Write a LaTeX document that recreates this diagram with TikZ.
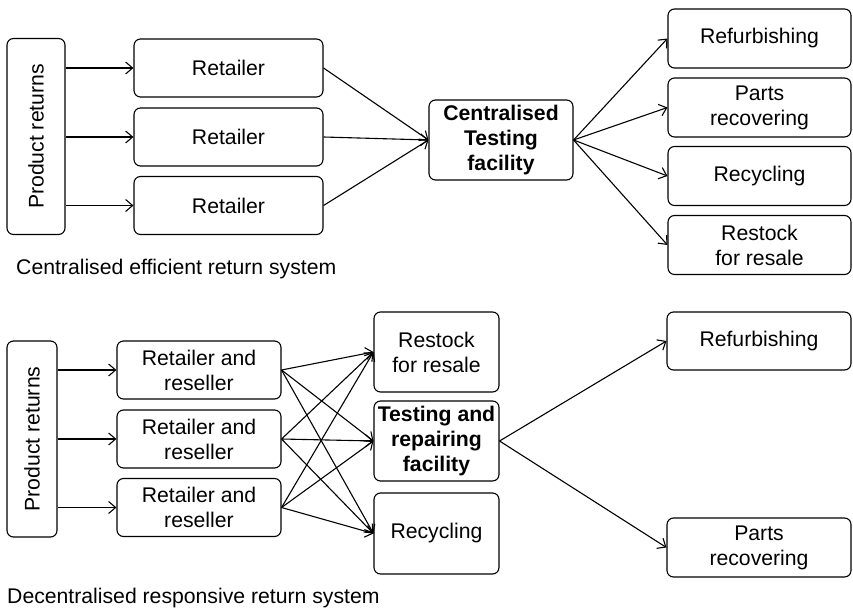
\documentclass[tikz,border=0pt]{standalone}
\usepackage{fontspec}
\setmainfont{Liberation Sans}
\usetikzlibrary{arrows.meta}

\begin{document}
\begin{tikzpicture}[
  x=1pt, y=1pt,
  box/.style={draw, rounded corners=6.5pt, line width=1.1pt, inner sep=0pt,
              font=\fontsize{21.2}{25}\selectfont, align=center},
  srcbox/.style={box, rotate=90, minimum width=196pt},
  hubbox/.style={box, font=\fontsize{21.2}{25}\selectfont\bfseries},
  caption/.style={anchor=west, inner sep=0pt, font=\fontsize{21.2}{25}\selectfont},
  arr/.style={-{Straight Barb[length=7pt, width=12pt, line width=1.1pt]}, line width=1.1pt}
]
  \useasboundingbox (0,0) rectangle (853,-609);

  % centralised system
  \node[srcbox, minimum height=58pt] (src)  at (36,-136.5) {Product returns};
  \node[box, minimum width=189pt, minimum height=58pt] (ret1) at (228.5,-68)  {Retailer};
  \node[box, minimum width=189pt, minimum height=58pt] (ret2) at (228.5,-137) {Retailer};
  \node[box, minimum width=189pt, minimum height=58pt] (ret3) at (228.5,-205.5) {Retailer};
  \node[hubbox, minimum width=144pt, minimum height=80pt] (ctf) at (501,-140) {Centralised\\Testing\\facility};
  \node[box, minimum width=183pt, minimum height=59pt] (refa) at (759.5,-38.5)  {Refurbishing};
  \node[box, minimum width=183pt, minimum height=59pt] (para) at (759.5,-107.5) {Parts\\recovering};
  \node[box, minimum width=183pt, minimum height=59pt] (reca) at (759.5,-176)   {Recycling};
  \node[box, minimum width=183pt, minimum height=59pt] (rsta) at (759.5,-245)   {Restock\\for resale};
  \node[caption] (capa) at (16,-269) {Centralised efficient return system};

  \draw[arr] (src.south |- ret1) -- (ret1.west);
  \draw[arr] (src.south |- ret2) -- (ret2.west);
  \draw[arr] (src.south |- ret3) -- (ret3.west);
  \draw[arr] (ret1.east) -- (ctf.west);
  \draw[arr] (ret2.east) -- (ctf.west);
  \draw[arr] (ret3.east) -- (ctf.west);
  \draw[arr] (ctf.east) -- (refa.west);
  \draw[arr] (ctf.east) -- (para.west);
  \draw[arr] (ctf.east) -- (reca.west);
  \draw[arr] (ctf.east) -- (rsta.west);

  % decentralised system
  \node[srcbox, minimum height=50pt] (srcb) at (32,-439) {Product returns};
  \node[box, minimum width=164pt, minimum height=58pt] (rr1) at (199,-370)   {Retailer and\\reseller};
  \node[box, minimum width=164pt, minimum height=58pt] (rr2) at (199,-439)   {Retailer and\\reseller};
  \node[box, minimum width=164pt, minimum height=58pt] (rr3) at (199,-507.5) {Retailer and\\reseller};
  \node[box, minimum width=125pt, minimum height=80pt] (rstb) at (436.5,-352) {Restock\\for resale};
  \node[hubbox, minimum width=125pt, minimum height=80pt] (trf) at (436.5,-441) {Testing and\\repairing\\facility};
  \node[box, minimum width=125pt, minimum height=81pt] (recb) at (436.5,-533.5) {Recycling};
  \node[box, minimum width=184pt, minimum height=58pt] (refb) at (759,-341)   {Refurbishing};
  \node[box, minimum width=184pt, minimum height=59pt] (parb) at (759,-547.5) {Parts\\recovering};
  \node[caption] (capb) at (7,-598) {Decentralised responsive return system};

  \draw[arr] (srcb.south |- rr1) -- (rr1.west);
  \draw[arr] (srcb.south |- rr2) -- (rr2.west);
  \draw[arr] (srcb.south |- rr3) -- (rr3.west);
  \draw[arr] (rr1.east) -- (rstb.west);
  \draw[arr] (rr1.east) -- (trf.west);
  \draw[arr] (rr1.east) -- (recb.west);
  \draw[arr] (rr2.east) -- (rstb.west);
  \draw[arr] (rr2.east) -- (trf.west);
  \draw[arr] (rr2.east) -- (recb.west);
  \draw[arr] (rr3.east) -- (rstb.west);
  \draw[arr] (rr3.east) -- (trf.west);
  \draw[arr] (rr3.east) -- (recb.west);
  \draw[arr] (trf.east) -- (refb.west);
  \draw[arr] (trf.east) -- (parb.west);
\end{tikzpicture}
\end{document}
